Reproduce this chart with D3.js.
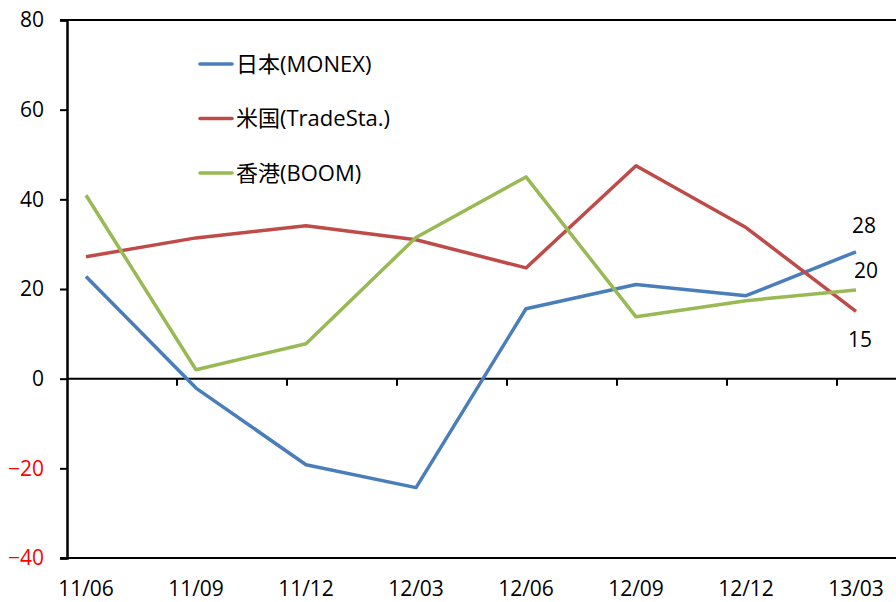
<!DOCTYPE html>
<html><head><meta charset="utf-8">
<script src="https://cdn.jsdelivr.net/npm/d3@7"></script>
<style>body{margin:0;background:#fff}svg{display:block}text{font-family:"Open Sans","Noto Sans CJK JP",sans-serif;}</style>
</head><body>
<svg id="c" width="896" height="602"></svg>
<script>
const categories = ["11/06","11/09","11/12","12/03","12/06","12/09","12/12","13/03"];
const japan = [22.8,-2.1,-19.2,-24.3,15.6,21.0,18.5,28.3];
const usa = [27.2,31.4,34.1,31.0,24.7,47.5,33.7,15.0];
const hongkong = [40.9,2.0,7.8,31.5,45.0,13.8,17.4,19.8];
const seriesNames = ["日本(MONEX)","米国(TradeSta.)","香港(BOOM)"];
const endLabels = ["28","15","20"];
const yTicks = [-40,-20,0,20,40,60,80];

(function(){
const series = [
  {name: seriesNames[0], values: japan, color: "#4a7ebb"},
  {name: seriesNames[1], values: usa, color: "#be4b48"},
  {name: seriesNames[2], values: hongkong, color: "#98b954"}
];

const svg = d3.select("#c");
const mLeft = 67, mTop = 20, mBottom = 558, mRight = 896;
const y = d3.scaleLinear().domain([-40, 80]).range([mBottom, mTop]);
const x = d3.scaleBand().domain(categories).range([mLeft, mLeft + 110*categories.length]).paddingInner(0);
const off = 19; // point offset within category band
const px = c => x(c) + off;

// frame top and bottom lines
svg.append("line").attr("x1", 60).attr("x2", mRight).attr("y1", mTop).attr("y2", mTop).attr("stroke","#000").attr("stroke-width",2);
svg.append("line").attr("x1", 60).attr("x2", mRight).attr("y1", mBottom).attr("y2", mBottom).attr("stroke","#000").attr("stroke-width",2);

// y axis
const yAxis = svg.append("g").attr("transform", `translate(${mLeft},0)`)
  .call(d3.axisLeft(y).tickValues(yTicks).tickSize(7).tickPadding(16).tickFormat(d3.format("d")));
yAxis.attr("font-size", 21).attr("font-family","'Open Sans',sans-serif");
yAxis.select(".domain").attr("stroke-width", 2.5);
yAxis.selectAll(".tick line").attr("stroke-width", 2);
yAxis.selectAll(".tick text").attr("fill", d => d < 0 ? "#ff0000" : "#000");

// zero line with category ticks
const xAxis = svg.append("g").attr("transform", `translate(0,${y(0)})`)
  .call(d3.axisBottom(x).tickSize(7).tickFormat(""));
xAxis.select(".domain").attr("d", `M${mLeft},0H${mRight}`).attr("stroke-width", 2);
xAxis.selectAll(".tick line").attr("transform", `translate(${110/2},0)`).attr("stroke-width", 2);
xAxis.selectAll(".tick").filter(d => d === categories[categories.length-1]).remove();

// category labels
svg.append("g").selectAll("text").data(categories).join("text")
  .attr("x", d => px(d)).attr("y", 596).attr("text-anchor","middle")
  .attr("font-size", 21).text(d => d);

// lines
const line = d3.line().x((d,i) => px(categories[i])).y(d => y(d));
svg.append("g").selectAll("path").data(series).join("path")
  .attr("d", d => line(d.values)).attr("fill","none")
  .attr("stroke", d => d.color).attr("stroke-width", 3.5).attr("stroke-linejoin","round");

// end labels
const lastCat = categories[categories.length-1];
const lab = [
  {t: endLabels[0], dx: 8, dy: -19},
  {t: endLabels[1], dx: 4, dy: 36},
  {t: endLabels[2], dx: 10, dy: -12}
];
svg.append("g").selectAll("text").data(series).join("text")
  .attr("x", (d,i) => px(lastCat) + lab[i].dx)
  .attr("y", (d,i) => y(d.values[d.values.length-1]) + lab[i].dy)
  .attr("text-anchor","middle").attr("font-size", 21)
  .text((d,i) => lab[i].t);

// legend
const lg = svg.append("g").selectAll("g").data(series).join("g")
  .attr("transform", (d,i) => `translate(200,${64 + i*54.5})`);
lg.append("line").attr("x1",0).attr("x2",32).attr("stroke", d => d.color).attr("stroke-width",3.5).attr("stroke-linecap","round");
lg.append("text").attr("x",36).attr("y",7.5).attr("font-size",22).text(d => d.name);
})();
</script>
</body></html>
